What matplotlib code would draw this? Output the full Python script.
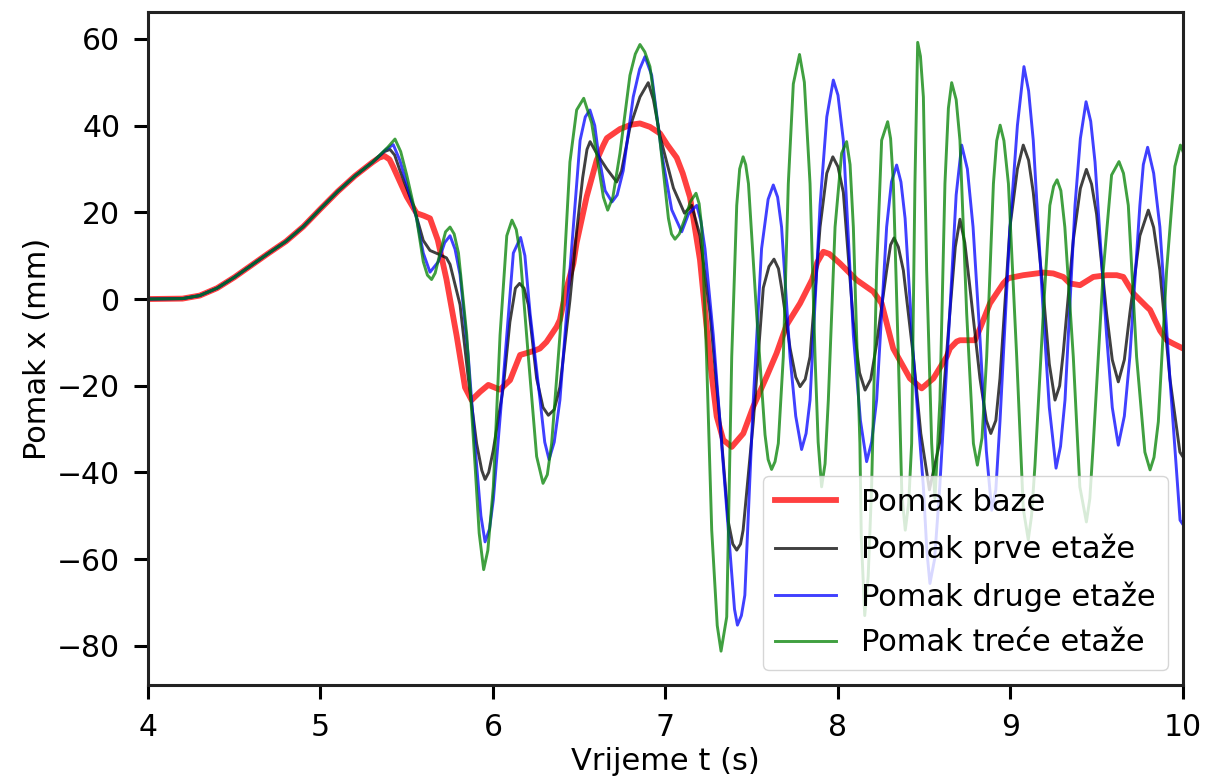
import matplotlib
matplotlib.use("Agg")
import matplotlib.pyplot as plt

# shared initial rise (all four curves overlap here): (t, x)
rise = [(4.0, 0.0), (4.2, 0.1), (4.3, 0.8), (4.4, 2.5), (4.5, 5.0), (4.6, 7.8),
        (4.7, 10.6), (4.8, 13.3), (4.9, 16.7), (5.0, 20.8), (5.1, 24.8),
        (5.2, 28.4), (5.3, 31.5)]

# base displacement
baze = [(5.34, 32.6), (5.37, 33.0), (5.40, 32.2), (5.42, 30.6), (5.5, 23.6),
        (5.557, 19.8), (5.6, 19.2), (5.635, 18.6), (5.68, 13.6), (5.73, 4.6),
        (5.789, -8.4), (5.838, -20.4), (5.876, -23.3), (5.925, -21.4), (5.973, -19.8),
        (6.04, -20.9), (6.099, -18.7), (6.157, -12.9), (6.234, -12.0), (6.272, -11.4),
        (6.31, -9.9), (6.369, -6.4), (6.388, -4.8), (6.427, 2.6), (6.466, 8.2),
        (6.485, 13.0), (6.543, 23.6), (6.601, 32.0), (6.64, 35.5), (6.66, 37.1),
        (6.736, 39.2), (6.8, 40.2), (6.852, 40.5), (6.91, 39.7), (6.968, 38.2),
        (7.01, 35.6), (7.065, 32.6), (7.1, 29.0), (7.142, 23.5), (7.18, 14.0),
        (7.2, 9.0), (7.23, -3.0), (7.26, -15.0), (7.297, -27.1), (7.335, -32.5),
        (7.384, -34.1), (7.451, -31.0), (7.509, -24.8), (7.586, -17.9), (7.644, -12.5),
        (7.702, -6.0), (7.78, -1.0), (7.85, 4.5), (7.88, 8.5), (7.915, 10.9),
        (7.95, 10.4), (8.012, 8.2), (8.108, 4.4), (8.205, 1.7), (8.253, -1.0),
        (8.32, -11.4), (8.417, -18.3), (8.485, -20.6), (8.553, -18.3), (8.63, -13.3),
        (8.649, -11.4), (8.688, -9.8), (8.707, -9.5), (8.794, -9.5), (8.823, -6.8),
        (8.881, -1.0), (8.958, 3.6), (8.987, 4.8), (9.074, 5.5), (9.19, 6.1),
        (9.248, 5.9), (9.306, 5.1), (9.344, 3.6), (9.403, 3.2), (9.48, 5.1),
        (9.558, 5.5), (9.616, 5.5), (9.654, 5.1), (9.712, 1.3), (9.79, -1.8),
        (9.809, -2.5), (9.867, -7.3), (9.906, -9.5), (9.944, -10.3), (10.0, -11.4)]

# first floor
prve = [(5.37, 34.0), (5.403, 34.5), (5.43, 33.2), (5.461, 29.6), (5.538, 21.6),
        (5.596, 13.5), (5.635, 11.2), (5.693, 10.2), (5.73, 9.5), (5.751, 8.0),
        (5.809, -1.3), (5.857, -18.3), (5.905, -33.3), (5.935, -39.5), (5.954, -41.6),
        (5.975, -40.0), (6.001, -35.0), (6.06, -20.3), (6.098, -5.3), (6.13, 2.5),
        (6.154, 3.6), (6.18, 2.5), (6.205, -1.3), (6.253, -18.3), (6.29, -25.0),
        (6.321, -26.8), (6.355, -25.5), (6.388, -20.3), (6.446, -0.3), (6.485, 15.6),
        (6.52, 28.0), (6.545, 34.5), (6.563, 36.3), (6.601, 33.6), (6.66, 30.0),
        (6.717, 27.0), (6.745, 29.5), (6.794, 39.6), (6.852, 46.6), (6.9, 49.9),
        (6.93, 46.0), (6.968, 37.6), (7.046, 25.6), (7.11, 19.8), (7.152, 21.6),
        (7.2, 14.6), (7.258, -3.3), (7.316, -28.3), (7.364, -51.3), (7.39, -56.5),
        (7.413, -57.9), (7.435, -56.5), (7.45, -53.3), (7.509, -28.3), (7.567, 2.6),
        (7.6, 7.5), (7.629, 9.2), (7.655, 7.0), (7.673, 2.6), (7.722, -11.3),
        (7.755, -18.0), (7.78, -20.2), (7.81, -18.5), (7.838, -13.3), (7.896, 16.6),
        (7.935, 29.0), (7.97, 32.8), (8.0, 30.5), (8.031, 24.6), (8.089, -5.3),
        (8.125, -17.0), (8.157, -21.0), (8.19, -18.5), (8.224, -10.3), (8.282, 6.6),
        (8.305, 12.5), (8.325, 14.1), (8.35, 12.0), (8.379, 6.6), (8.437, -13.3),
        (8.48, -31.0), (8.53, -44.0), (8.59, -33.0), (8.648, -3.3), (8.68, 12.0),
        (8.707, 18.4), (8.735, 13.0), (8.765, 2.6), (8.823, -18.3), (8.86, -28.0),
        (8.886, -31.0), (8.915, -28.0), (8.939, -18.3), (8.997, 16.6), (9.04, 30.0),
        (9.074, 35.5), (9.105, 32.0), (9.132, 24.6), (9.19, 1.6), (9.225, -15.0),
        (9.258, -23.3), (9.285, -20.0), (9.306, -12.3), (9.364, 13.6), (9.405, 25.5),
        (9.44, 29.9), (9.47, 26.5), (9.499, 19.6), (9.557, -3.3), (9.59, -14.0),
        (9.625, -19.1), (9.66, -14.0), (9.692, -3.3), (9.75, 14.6), (9.799, 20.5),
        (9.83, 16.5), (9.866, 6.6), (9.924, -18.3), (9.982, -35.3), (10.0, -36.4)]

# second floor
druge = [(5.38, 34.5), (5.422, 35.6), (5.46, 32.0), (5.5, 26.6), (5.557, 18.6),
         (5.596, 10.6), (5.635, 6.2), (5.683, 8.6), (5.72, 13.0), (5.751, 14.6),
         (5.78, 11.5), (5.809, 5.6), (5.857, -13.3), (5.905, -38.3), (5.93, -50.0),
         (5.954, -56.0), (5.98, -53.0), (6.002, -46.3), (6.06, -18.3), (6.118, 10.6),
         (6.16, 14.2), (6.185, 10.0), (6.215, -3.3), (6.273, -23.3), (6.3, -33.0),
         (6.325, -37.0), (6.355, -33.0), (6.388, -23.3), (6.446, 6.6), (6.505, 36.6),
         (6.535, 42.0), (6.562, 43.6), (6.59, 40.0), (6.611, 33.6), (6.65, 25.0),
         (6.69, 22.4), (6.72, 24.0), (6.755, 29.6), (6.813, 46.6), (6.85, 53.0),
         (6.881, 55.9), (6.92, 51.6), (6.978, 33.6), (7.036, 20.6), (7.094, 15.5),
         (7.133, 19.6), (7.181, 21.6), (7.205, 18.0), (7.229, 11.6), (7.277, -8.3),
         (7.335, -38.3), (7.384, -63.3), (7.4, -71.5), (7.417, -75.2), (7.44, -73.0),
         (7.46, -68.3), (7.509, -23.3), (7.557, 11.6), (7.595, 23.0), (7.625, 26.3),
         (7.65, 23.5), (7.673, 16.6), (7.722, -13.3), (7.755, -27.0), (7.789, -34.7),
         (7.815, -31.0), (7.838, -23.3), (7.896, 21.6), (7.935, 42.0), (7.973, 50.5),
         (8.0, 47.0), (8.031, 36.6), (8.089, -8.3), (8.13, -28.0), (8.166, -37.5),
         (8.195, -33.0), (8.224, -23.3), (8.282, 16.6), (8.31, 27.0), (8.34, 30.9),
         (8.365, 27.0), (8.389, 18.6), (8.437, -13.3), (8.495, -43.3), (8.515, -58.0),
         (8.533, -65.6), (8.56, -60.0), (8.59, -43.3), (8.648, -3.3), (8.685, 24.0),
         (8.717, 35.5), (8.75, 30.0), (8.783, 16.6), (8.822, -8.3), (8.86, -35.0),
         (8.891, -48.7), (8.915, -44.0), (8.939, -28.3), (8.997, 16.6), (9.04, 40.0),
         (9.078, 53.6), (9.105, 48.0), (9.132, 36.6), (9.19, -3.3), (9.225, -25.0),
         (9.264, -39.0), (9.29, -34.0), (9.316, -23.3), (9.374, 21.6), (9.405, 37.0),
         (9.438, 45.5), (9.465, 41.0), (9.49, 31.6), (9.557, -8.3), (9.59, -25.0),
         (9.625, -33.7), (9.66, -27.0), (9.692, -13.3), (9.75, 21.6), (9.77, 31.0),
         (9.795, 35.0), (9.83, 29.0), (9.866, 16.6), (9.924, -18.3), (9.983, -51.0),
         (10.0, -52.0)]

# third floor
trece = [(5.39, 35.0), (5.432, 36.9), (5.465, 34.0), (5.5, 28.6), (5.557, 18.6),
         (5.596, 8.6), (5.62, 5.5), (5.644, 4.5), (5.665, 6.0), (5.693, 10.6),
         (5.725, 15.5), (5.751, 16.6), (5.775, 15.0), (5.8, 10.6), (5.848, -8.3),
         (5.896, -38.3), (5.92, -54.0), (5.946, -62.4), (5.97, -58.0), (6.002, -43.3),
         (6.041, -8.3), (6.08, 14.6), (6.11, 18.2), (6.135, 16.0), (6.157, 10.6),
         (6.205, -13.3), (6.253, -36.3), (6.29, -42.5), (6.315, -40.5), (6.34, -33.3),
         (6.398, -3.3), (6.446, 31.6), (6.485, 43.6), (6.526, 46.3), (6.572, 40.6),
         (6.62, 28.6), (6.64, 23.5), (6.665, 20.5), (6.695, 23.5), (6.736, 33.6),
         (6.794, 51.6), (6.825, 56.5), (6.852, 58.7), (6.88, 57.0), (6.91, 53.6),
         (6.968, 36.6), (7.017, 18.6), (7.035, 15.0), (7.055, 13.8), (7.08, 15.0),
         (7.113, 18.6), (7.145, 22.5), (7.177, 24.4), (7.195, 22.0), (7.21, 16.6),
         (7.238, -13.3), (7.268, -53.3), (7.3, -75.3), (7.322, -81.2), (7.355, -73.3),
         (7.384, -13.3), (7.413, 21.6), (7.43, 30.0), (7.45, 32.8), (7.465, 31.0),
         (7.481, 26.6), (7.528, -3.3), (7.577, -31.3), (7.595, -37.0), (7.615, -39.3),
         (7.635, -37.5), (7.654, -33.3), (7.683, -13.3), (7.712, 26.6), (7.741, 49.6),
         (7.777, 56.4), (7.805, 50.0), (7.838, 26.6), (7.867, -13.3), (7.885, -33.0),
         (7.905, -43.3), (7.925, -38.0), (7.944, -23.3), (7.983, 16.6), (8.021, 33.6),
         (8.05, 36.3), (8.07, 31.0), (8.089, 16.6), (8.127, -33.3), (8.135, -55.0),
         (8.155, -73.0), (8.175, -64.0), (8.195, -43.3), (8.224, 6.6), (8.253, 36.6),
         (8.288, 40.9), (8.305, 37.0), (8.321, 26.6), (8.35, -13.3), (8.37, -45.0),
         (8.39, -53.3), (8.41, -47.0), (8.427, -33.3), (8.446, 26.6), (8.462, 59.2),
         (8.478, 56.0), (8.495, 46.6), (8.514, 6.6), (8.543, -33.3), (8.562, -46.0),
         (8.591, -23.3), (8.62, 26.6), (8.64, 44.0), (8.659, 49.9), (8.685, 46.0),
         (8.707, 36.6), (8.746, -3.3), (8.785, -33.3), (8.808, -38.3), (8.835, -32.0),
         (8.862, -13.3), (8.901, 26.6), (8.92, 36.5), (8.94, 40.1), (8.962, 36.5),
         (8.988, 26.6), (9.036, -13.3), (9.074, -48.3), (9.103, -55.5), (9.122, -50.0),
         (9.142, -38.3), (9.19, -3.3), (9.228, 21.6), (9.25, 26.0), (9.27, 27.5),
         (9.292, 25.0), (9.315, 16.6), (9.364, -13.3), (9.402, -43.3), (9.44, -51.4),
         (9.46, -46.0), (9.48, -33.3), (9.538, 6.6), (9.586, 28.6), (9.629, 31.7),
         (9.655, 29.0), (9.683, 21.6), (9.731, -13.3), (9.779, -35.3), (9.809, -39.4),
         (9.832, -36.5), (9.857, -28.3), (9.905, 6.6), (9.953, 30.6), (9.985, 35.5),
         (10.0, 34.0)]

series = [(baze, 'r', 4.2, 'Pomak baze'),
          (prve, 'k', 2.1, 'Pomak prve etaže'),
          (druge, 'b', 2.1, 'Pomak druge etaže'),
          (trece, 'g', 2.1, 'Pomak treće etaže')]

fs = 22
plt.rcParams['font.size'] = fs
fig = plt.figure(figsize=(12.08, 7.83), dpi=100)
ax = fig.add_axes([0.1225, 0.1252, 0.8568, 0.8595])

for pts, col, lw, lab in series:
    t, x = zip(*(rise + pts))
    ax.plot(t, x, color=col, lw=lw, alpha=0.75, label=lab)

ax.set_xlim(4, 10)
ax.set_ylim(-89, 66.2)
ax.set_xticks([4, 5, 6, 7, 8, 9, 10])
ax.set_yticks([-80, -60, -40, -20, 0, 20, 40, 60])
ax.set_xlabel('Vrijeme t (s)', fontsize=fs)
ax.set_ylabel('Pomak x (mm)', fontsize=fs)
ax.tick_params(labelsize=21.5, length=10, width=2.2, pad=10)
for s in ax.spines.values():
    s.set_linewidth(2.2)
    s.set_color('#222222')
ax.legend(loc='lower right', fontsize=fs, borderaxespad=0.5, handlelength=2.0,
          labelspacing=0.55)

fig.savefig('out.png', dpi=100)
